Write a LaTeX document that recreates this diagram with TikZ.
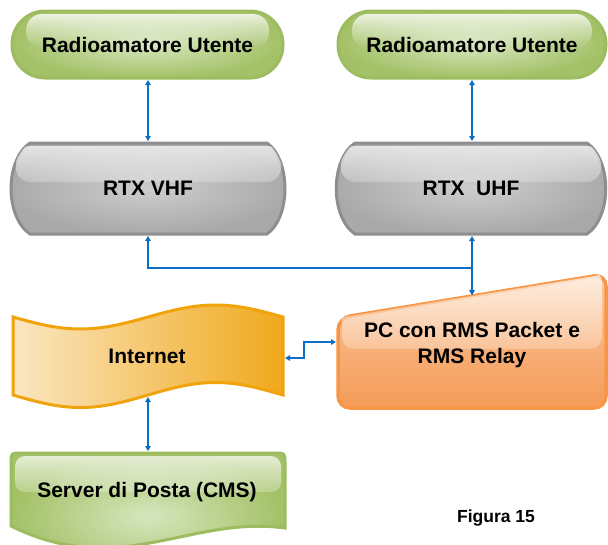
\documentclass[tikz,border=0pt]{standalone}
\usepackage{fontspec}
\setmainfont{Liberation Sans}
\usetikzlibrary{arrows.meta,fadings}

\definecolor{linkblue}{HTML}{0A6EC4}
\definecolor{greenedge}{HTML}{9DBB5F}
\definecolor{greendark}{HTML}{A3C166}
\definecolor{greenlight}{HTML}{D6E6BE}
\definecolor{grayedge}{HTML}{8E8E8E}
\definecolor{graydark}{HTML}{A9A9A9}
\definecolor{graylight}{HTML}{CDCDCD}
\definecolor{amberedge}{HTML}{F0A30A}
\definecolor{amberdark}{HTML}{F0A91C}
\definecolor{amberlight}{HTML}{FBE6C2}
\definecolor{orangeedge}{HTML}{F79646}
\definecolor{orangedark}{HTML}{F59B58}
\definecolor{orangelight}{HTML}{FAC9A0}

% soft white gloss on the upper part of each shape
\tikzfading[name=glossfade, top color=transparent!20, bottom color=transparent!100]
\tikzfading[name=bandfade, top color=transparent!30, bottom color=transparent!75]

\tikzset{
  lbl/.style={font=\bfseries\fontsize{21}{26}\selectfont, text=black, align=center, inner sep=0pt},
  link/.style={draw=linkblue, line width=1.6pt,
    {Triangle[length=5pt,width=5.5pt]}-{Triangle[length=5pt,width=5.5pt]}},
  greenshape/.style={draw=greenedge, line width=3pt, inner color=greenlight, outer color=greendark},
  grayshape/.style={draw=grayedge, line width=3pt, inner color=graylight, outer color=graydark},
  ambershape/.style={draw=amberedge, line width=3pt, left color=amberlight, right color=amberdark},
  orangeshape/.style={draw=orangeedge, line width=3.5pt, top color=orangelight, bottom color=orangedark},
  gloss/.style={fill=white, path fading=glossfade},
  band/.style={fill=white, path fading=bandfade},
}

\begin{document}
\begin{tikzpicture}[x=1pt,y=-1pt]
\useasboundingbox (0,0) rectangle (608,544);

% --- user stations (green pills)
\path[greenshape, rounded corners=33pt] (12,11) rectangle (283,78);
\fill[gloss, rounded corners=16pt] (26,14) rectangle (269,48);
\path[greenshape, rounded corners=33pt] (338,11) rectangle (606,78);
\fill[gloss, rounded corners=16pt] (352,14) rectangle (592,48);
\node[lbl, anchor=base] (ru1) at (147.5,52) {Radioamatore Utente};
\node[lbl, anchor=base] (ru2) at (472,52) {Radioamatore Utente};

% --- transceivers (grey, bulging sides)
\path[grayshape] (30,143) -- (267,143) .. controls (291,160) and (291,217) .. (267,234)
  -- (30,234) .. controls (4.7,217) and (4.7,160) .. (30,143) -- cycle;
\begin{scope}
  \clip (30,143) -- (267,143) .. controls (291,160) and (291,217) .. (267,234)
    -- (30,234) .. controls (4.7,217) and (4.7,160) .. (30,143) -- cycle;
  \fill[band, rounded corners=14pt] (16,146) rectangle (281,182);
\end{scope}
\path[grayshape] (355,143) -- (587,143) .. controls (612,160) and (612,217) .. (587,234)
  -- (355,234) .. controls (330,217) and (330,160) .. (355,143) -- cycle;
\begin{scope}
  \clip (355,143) -- (587,143) .. controls (612,160) and (612,217) .. (587,234)
    -- (355,234) .. controls (330,217) and (330,160) .. (355,143) -- cycle;
  \fill[band, rounded corners=14pt] (341,146) rectangle (601,182);
\end{scope}
\node[lbl, anchor=base] (vhf) at (148,195) {RTX VHF};
\node[lbl, anchor=base] (uhf) at (471,195) {RTX \ UHF};

% --- gateway PC (orange, slanted top)
\path[orangeshape, rounded corners=12pt] (338,360) -- (338,318) -- (606,274) -- (606,408) -- (338,408) -- cycle;
\begin{scope}
  \clip (338,318) -- (606,274) -- (606,408) -- (338,408) -- cycle;
  \fill[band, rounded corners=12pt] (342,270) rectangle (602,349);
\end{scope}
\node[lbl] (pc) at (472,345) {PC con RMS Packet e\\RMS Relay};

% --- Internet (punched tape)
\path[ambershape] plot[domain=13:283, samples=60] (\x, {317+12*sin((\x-13)*1.33333)})
  -- plot[domain=283:13, samples=60] (\x, {395+12.5*sin((\x-13)*1.33333)}) -- cycle;
\node[lbl, anchor=base] (inet) at (147,363) {Internet};

% --- mail server (document)
\path[greenshape] (11,526) -- (11,463) .. controls (11,453) .. (21,453) -- (275,453)
  .. controls (285,453) .. (285,463) -- (285,528) .. controls (190,515) and (120,580) .. (11,526) -- cycle;
\begin{scope}
  \clip (11,526) -- (11,463) .. controls (11,453) .. (21,453) -- (275,453)
    .. controls (285,453) .. (285,463) -- (285,528) .. controls (190,515) and (120,580) .. (11,526) -- cycle;
  \fill[band, rounded corners=10pt] (15,456) rectangle (281,492);
\end{scope}
\node[lbl, anchor=base] (srv) at (147,497) {Server di Posta (CMS)};

\node[font=\bfseries\fontsize{17.5}{20}\selectfont, anchor=base, inner sep=0pt] (fig) at (496,522.5) {Figura 15};

% --- connection points on the shape outlines
\coordinate (ru1-s) at (148,80);
\coordinate (ru2-s) at (472,80);
\coordinate (vhf-n) at (148,141);
\coordinate (vhf-s) at (148,236);
\coordinate (uhf-n) at (472,141);
\coordinate (uhf-s) at (472,236);
\coordinate (pc-n)  at (472,295);
\coordinate (pc-w)  at (336,342);
\coordinate (inet-e) at (285,358);
\coordinate (inet-s) at (148,397);
\coordinate (srv-n) at (148,451);
\coordinate (bus)   at (472,268);
\coordinate (jog)   at (304,350);

% --- links
\draw[link] (ru1-s) -- (vhf-n);
\draw[link] (ru2-s) -- (uhf-n);
\draw[link] (vhf-s) |- (bus) -- (pc-n);
\draw[link] (uhf-s) -- (pc-n);
\draw[link] (inet-e) -| (jog) |- (pc-w);
\draw[link] (inet-s) -- (srv-n);
\end{tikzpicture}
\end{document}
